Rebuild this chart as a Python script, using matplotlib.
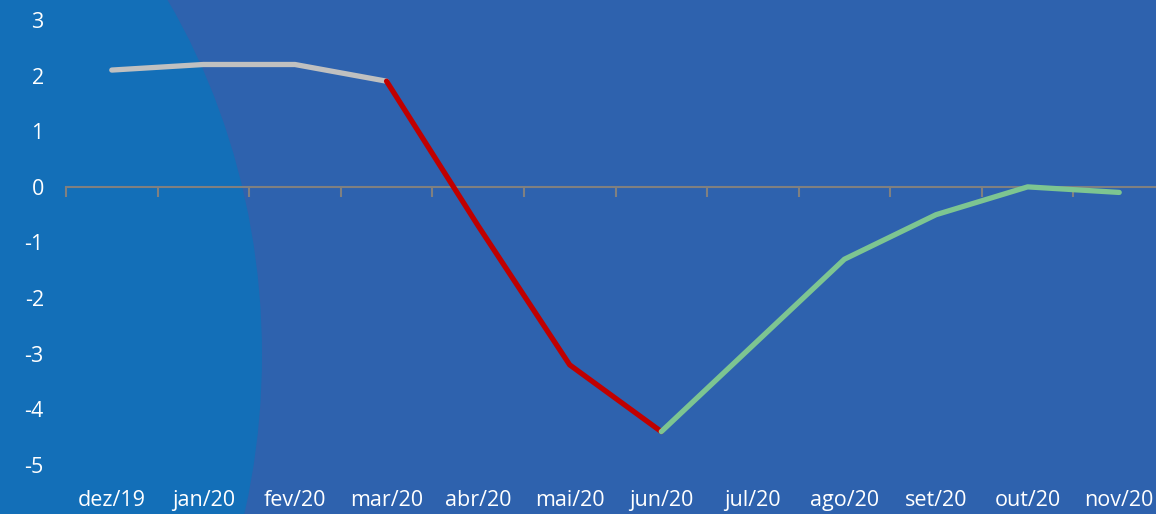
import numpy as np
import matplotlib.pyplot as plt
from matplotlib.patches import Ellipse

plt.rcParams['font.family'] = ['Open Sans', 'DejaVu Sans']

months = ['dez/19', 'jan/20', 'fev/20', 'mar/20', 'abr/20', 'mai/20',
          'jun/20', 'jul/20', 'ago/20', 'set/20', 'out/20', 'nov/20']
values = [2.1, 2.2, 2.2, 1.9, -0.7, -3.2, -4.4, -2.85, -1.3, -0.5, 0.0, -0.1]

# which stretch of the series gets which colour (start, end index)
segments = [(0, 3, '#c0c0c0'), (3, 6, '#c00000'), (6, 11, '#7dc591')]

bg = '#2e62ae'
fig = plt.figure(figsize=(11.56, 5.14), dpi=100, facecolor=bg)

# lighter blue arc on the left
W, H = 1156, 514
arc = Ellipse((-300 / W, 1 - 355 / H), 2 * 562 / W, 2 * 640 / H,
              transform=fig.transFigure, facecolor='#136fb8', edgecolor='none', zorder=-1)
fig.patches.append(arc)

ax = fig.add_axes([66 / W, 1 - 465 / H, 1099 / W, 445 / H])
ax.set_zorder(1)
ax.set_facecolor('none')

x = np.arange(len(months))
for a, b, c in segments:
    ax.plot(x[a:b + 1], values[a:b + 1], color=c, lw=3.8,
            solid_capstyle='round', solid_joinstyle='round', zorder=3)

ax.set_xlim(-0.5, 11.5)
ax.set_ylim(-5, 3)

for s in ['top', 'right', 'left']:
    ax.spines[s].set_visible(False)
ax.spines['bottom'].set_position(('data', 0))
ax.spines['bottom'].set_color('#808080')
ax.spines['bottom'].set_linewidth(1.5)

ax.set_xticks(np.arange(-0.5, 12, 1))
ax.set_xticklabels([])
ax.tick_params(axis='x', direction='out', length=7, width=1.5, color='#808080')

ax.set_yticks(range(-5, 4))
ax.set_yticklabels([str(v) for v in range(-5, 4)])
ax.tick_params(axis='y', length=0, pad=16, labelcolor='white', labelsize=15.5)

for i, m in enumerate(months):
    ax.text(i, -0.079, m, transform=ax.get_xaxis_transform(), ha='center', va='center',
            color='white', fontsize=15.5)

fig.savefig('out.png', dpi=100, facecolor=bg)
